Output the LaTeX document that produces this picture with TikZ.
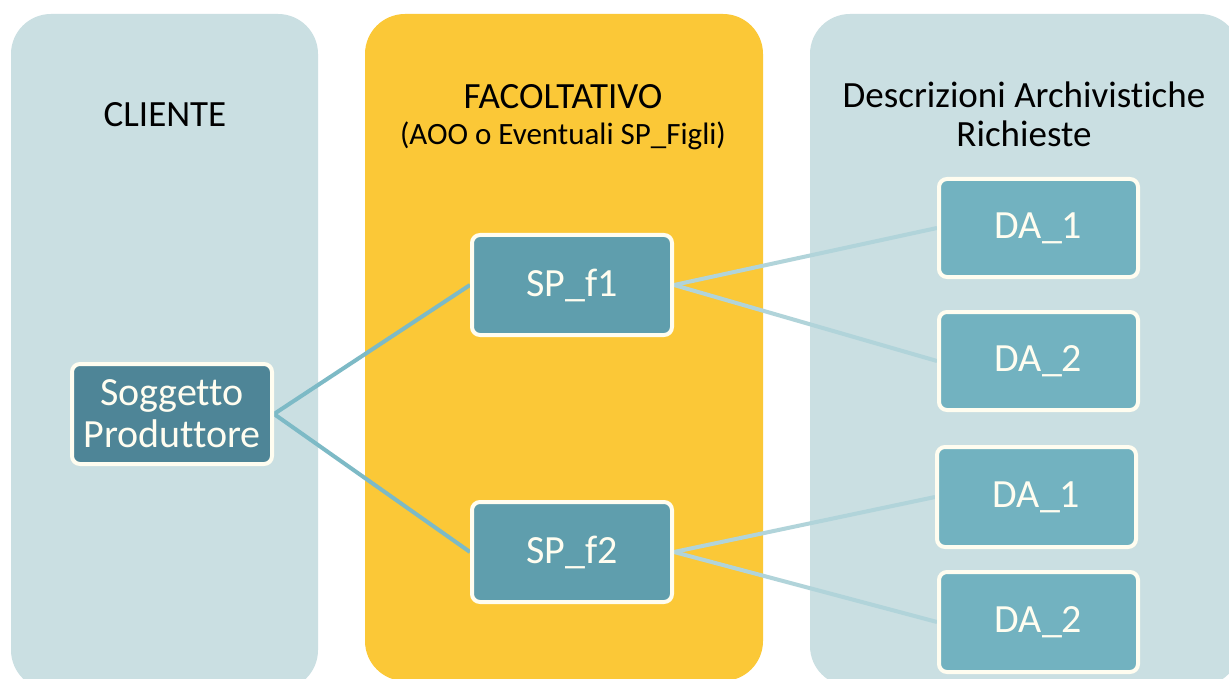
\documentclass[tikz,border=0pt]{standalone}
\usepackage{fontspec}
\setmainfont{Carlito}[Ligatures=NoCommon]
\pgfdeclarelayer{background}
\pgfdeclarelayer{links}
\pgfsetlayers{background,links,main}
\definecolor{panelblue}{HTML}{CADFE2}
\definecolor{panelyellow}{HTML}{FBC837}
\definecolor{spfill}{HTML}{4E8597}
\definecolor{sffill}{HTML}{5F9EAD}
\definecolor{dafill}{HTML}{72B2C0}
\definecolor{ivory}{HTML}{FFFDF0}
\definecolor{linkdark}{HTML}{7DBAC6}
\definecolor{linklight}{HTML}{B1D4DA}
\begin{document}
\begin{tikzpicture}[x=1pt,y=-1pt,
  panel/.style={rounded corners=40pt},
  box/.style={draw=ivory, line width=4pt, rounded corners=8pt, text=ivory,
    font=\fontsize{40}{42}\selectfont, align=center, inner sep=0pt, anchor=north west,
    minimum width=200pt, minimum height=100pt},
  head/.style={font=\fontsize{37}{40}\selectfont, align=center, text=black},
  sub/.style={font=\fontsize{31}{34}\selectfont, align=center, text=black},
  linkA/.style={draw=linkdark, line width=4pt},
  linkB/.style={draw=linklight, line width=4pt}]
\useasboundingbox (0,0) rectangle (1229,679);
\begin{pgfonlayer}{background}
\fill[white] (0,0) rectangle (1229,679);
\fill[panelblue, panel] (11,14) rectangle (318,690);
\fill[panelyellow, panel] (365,14) rectangle (763,681);
\fill[panelblue, panel] (810,14) rectangle (1240,686);
\end{pgfonlayer}
% headers
\node[head] (hcli) at (165,115) {CLIENTE};
\node[head] (hfac) at (563,97) {FACOLTATIVO};
\node[sub] (hfacs) at (563,136) {(AOO o Eventuali SP\_Figli)};
\node[head] (hda) at (1024,95) {Descrizioni Archivistiche};
\node[head] (hda2) at (1024,134) {Richieste};
% nodes
\node[box, fill=spfill] (sp) at (70,362) {Soggetto\\Produttore};
\node[box, fill=sffill] (f1) at (470,233) {SP\_f1};
\node[box, fill=sffill] (f2) at (470,500) {SP\_f2};
\node[box, fill=dafill, minimum width=199pt, minimum height=98pt] (d11) at (937,177) {DA\_1};
\node[box, fill=dafill, minimum width=199pt, minimum height=98pt] (d12) at (937,310) {DA\_2};
\node[box, fill=dafill, minimum width=199pt] (d21) at (935,445) {DA\_1};
\node[box, fill=dafill, minimum width=199pt] (d22) at (937,570) {DA\_2};
% connectors
\begin{pgfonlayer}{links}
\draw[linkA] (sp.east) -- (f1.west);
\draw[linkA] (sp.east) -- (f2.west);
\draw[linkB] (f1.east) -- (d11.west);
\draw[linkB] (f1.east) -- (d12.west);
\draw[linkB] (f2.east) -- (d21.west);
\draw[linkB] (f2.east) -- (d22.west);
\end{pgfonlayer}
\end{tikzpicture}
\end{document}
